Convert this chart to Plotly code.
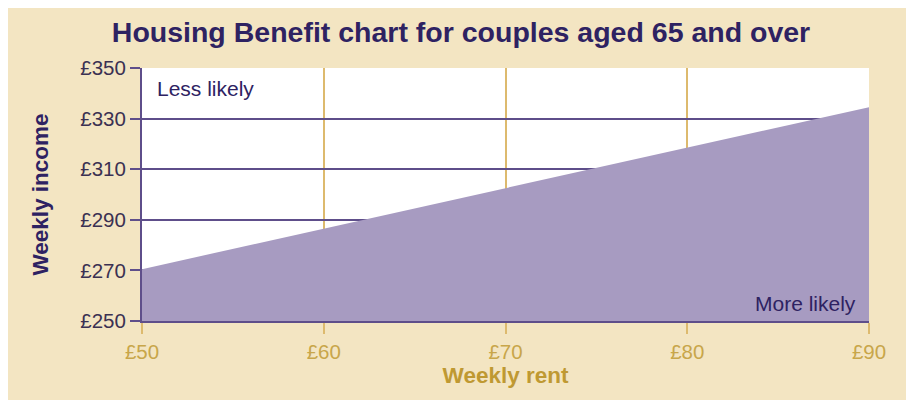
import plotly.graph_objects as go

# Data
weekly_rent = [50, 90]
weekly_income = [270.5, 334.5]
x_ticks = [50, 60, 70, 80, 90]
x_tick_labels = ["£50", "£60", "£70", "£80", "£90"]
y_ticks = [250, 270, 290, 310, 330, 350]
y_tick_labels = ["£250", "£270", "£290", "£310", "£330", "£350"]

BEIGE = "#F3E5C2"
FILL = "#A79BC1"
PURPLE_LINE = "#5E4E8A"
GOLD_LINE = "#DDBA6E"
TITLE_C = "#2E2262"
YTICK_C = "#3B3152"
XTICK_C = "#C8A64A"
XTITLE_C = "#BF9932"

fig = go.Figure()
fig.add_trace(go.Scatter(
    x=weekly_rent, y=weekly_income, mode="lines",
    line=dict(width=0, color=FILL), fill="tozeroy", fillcolor=FILL,
    hoverinfo="skip", showlegend=False,
))

# page has an 8px body margin; figure spans page x 8..909, y 8..400
W, H = 901, 392
L, T = 134, 60
R = W - (869 - 8)
B = H - (321 - 8)
pw, ph = W - L - R, H - T - B

def px(x):
    return (x - 8 - L) / pw

def py(y):
    return (H - B - (y - 8)) / ph

fig.update_layout(
    width=W, height=H,
    margin=dict(l=L, r=R, t=T, b=B),
    paper_bgcolor=BEIGE, plot_bgcolor="white",
    title=dict(text="<b>Housing Benefit chart for couples aged 65 and over</b>",
               x=(461 - 8) / W, xref="container", xanchor="center",
               y=1 - (32 - 8) / H, yref="container", yanchor="middle",
               font=dict(family="Liberation Sans, Arial", size=28.5, color=TITLE_C)),
    font=dict(family="Liberation Sans, Arial", size=20),
    xaxis=dict(range=[50, 90], tickvals=x_ticks, ticktext=x_tick_labels,
               showgrid=True, gridcolor=GOLD_LINE, gridwidth=2, layer="above traces",
               ticks="outside", ticklen=11, tickcolor=GOLD_LINE, tickwidth=2,
               tickfont=dict(color=XTICK_C, size=20.5),
               showline=True, linecolor=PURPLE_LINE, linewidth=2, zeroline=False,
               title=dict(text="<b>Weekly rent</b>", font=dict(color=XTITLE_C, size=22.5), standoff=6)),
    yaxis=dict(range=[250, 350], tickvals=y_ticks, ticktext=y_tick_labels,
               showgrid=True, gridcolor=PURPLE_LINE, gridwidth=2, layer="above traces",
               ticks="outside", ticklen=10, tickcolor=PURPLE_LINE, tickwidth=2,
               tickfont=dict(color=YTICK_C, size=20.5),
               showline=True, linecolor=PURPLE_LINE, linewidth=2, zeroline=False,
               title=dict(text="<b>Weekly income</b>", font=dict(color=TITLE_C, size=22.5), standoff=25)),
    annotations=[
        dict(text="Less likely", xref="paper", yref="paper", x=px(155), y=py(88),
             xanchor="left", yanchor="middle", showarrow=False,
             font=dict(color=TITLE_C, size=21)),
        dict(text="More likely", xref="paper", yref="paper", x=px(858), y=py(303),
             xanchor="right", yanchor="middle", showarrow=False,
             font=dict(color=TITLE_C, size=21)),
    ],
)

fig.write_html("out.html")
